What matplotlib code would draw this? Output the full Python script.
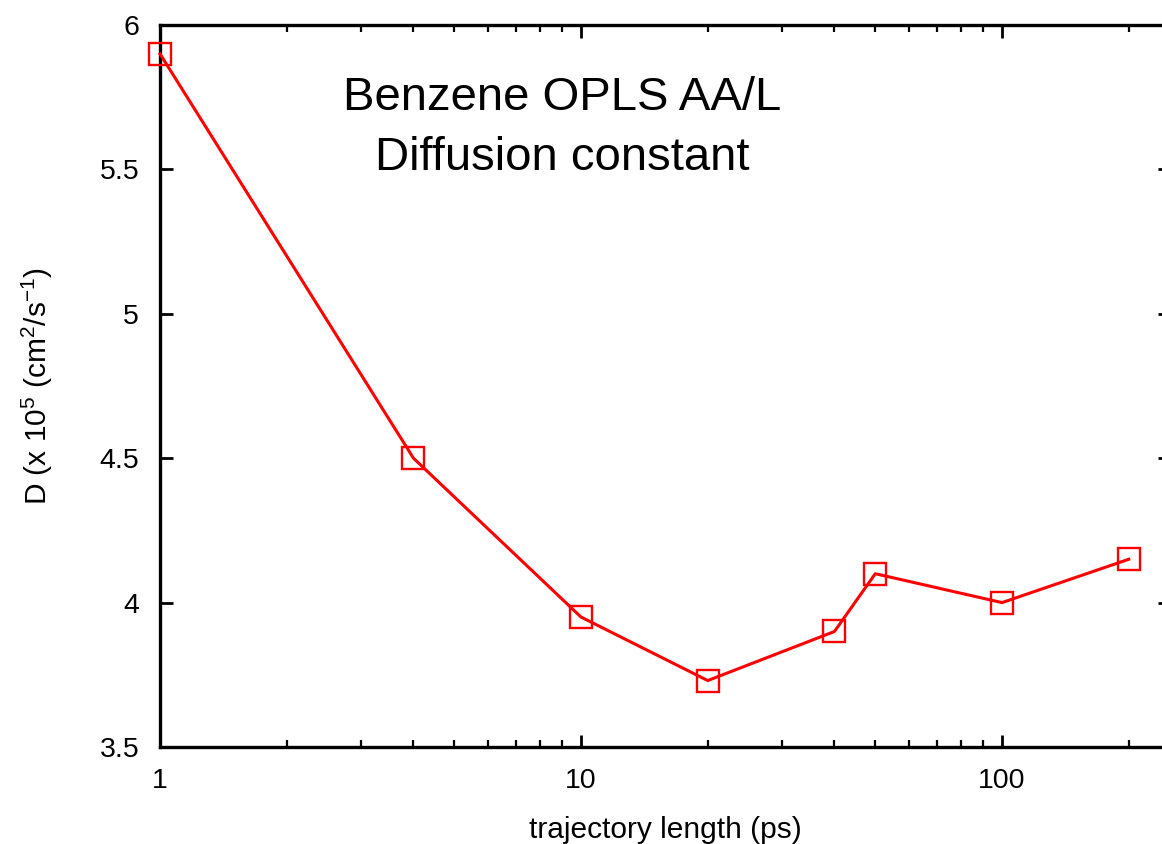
import matplotlib
matplotlib.use("Agg")
import matplotlib.pyplot as plt
from matplotlib.ticker import LogLocator, FixedLocator, NullFormatter, FixedFormatter

plt.rcParams['font.family'] = ['Liberation Sans', 'DejaVu Sans']
plt.rcParams['mathtext.fontset'] = 'custom'
plt.rcParams['mathtext.rm'] = 'Liberation Sans'
plt.rcParams['mathtext.it'] = 'Liberation Sans:italic'
plt.rcParams['mathtext.bf'] = 'Liberation Sans:bold'

traj_len = [1, 4, 10, 20, 40, 50, 100, 200]
diff_const = [5.9, 4.5, 3.95, 3.73, 3.9, 4.1, 4.0, 4.15]
y_ticks = [3.5, 4, 4.5, 5, 5.5, 6]
y_tick_labels = ['3.5', '4', '4.5', '5', '5.5', '6']
x_ticks = [1, 10, 100]
x_tick_labels = ['1', '10', '100']
title_lines = ['Benzene OPLS AA/L', 'Diffusion constant']

W, H = 1162, 844
fig = plt.figure(figsize=(W / 100, H / 100), dpi=100)
left, right, top, bottom = 160, 1170, 25, 747
ax = fig.add_axes([left / W, 1 - bottom / H, (right - left) / W, (bottom - top) / H])

ax.plot(traj_len, diff_const, color='#ff0000', lw=2.2, marker='s', ms=15.5,
        mfc='none', mec='#ff0000', mew=1.7, clip_on=False, zorder=3)

ax.set_xscale('log')
ax.set_xlim(1, 10 ** ((right - left) / 421.0))
ax.set_ylim(3.5, 6)

ax.xaxis.set_major_locator(FixedLocator(x_ticks))
ax.xaxis.set_major_formatter(FixedFormatter(x_tick_labels))
ax.xaxis.set_minor_locator(LogLocator(base=10, subs=range(2, 10), numticks=20))
ax.xaxis.set_minor_formatter(NullFormatter())
ax.yaxis.set_major_locator(FixedLocator(y_ticks))
ax.yaxis.set_major_formatter(FixedFormatter(y_tick_labels))

for s in ax.spines.values():
    s.set_linewidth(2.4)
    s.set_color('black')

ax.tick_params(which='both', direction='in', top=True, right=True, color='black')
ax.tick_params(which='major', length=9, width=2, labelsize=20.5, pad=15)
ax.tick_params(which='minor', length=5, width=1.6)

ax.set_xlabel('trajectory length (ps)', fontsize=21.5, labelpad=16)
ax.set_ylabel(r'D (x 10$^{\mathregular{5}}$ (cm$^{\mathregular{2}}$/s$^{\mathregular{-1}}$)',
              fontsize=21.5, labelpad=32)

for i, (line, ybase) in enumerate(zip(title_lines, [110, 170])):
    fig.text(562 / W, 1 - ybase / H, line, ha='center', va='baseline', fontsize=34)

fig.savefig('out.png', dpi=100)
